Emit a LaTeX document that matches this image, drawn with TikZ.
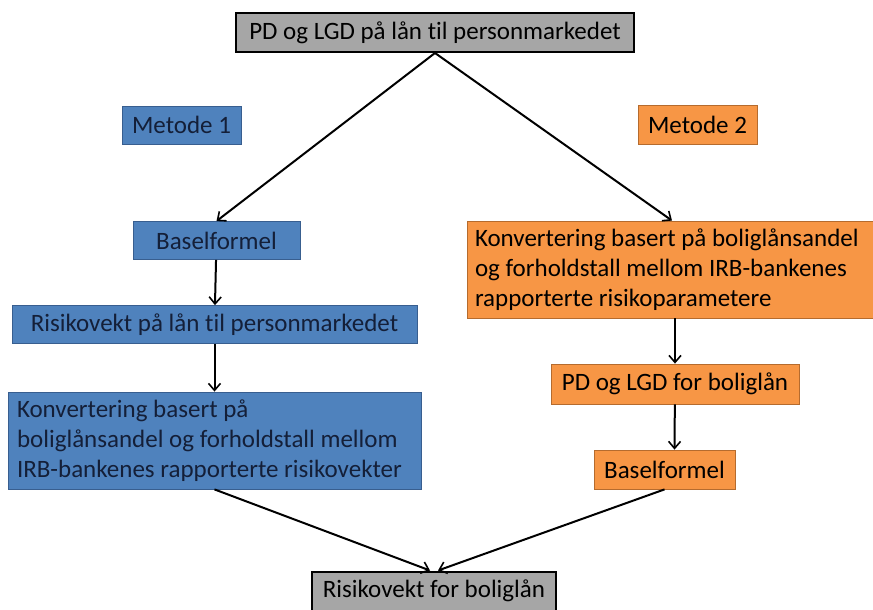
\documentclass[tikz,border=0pt]{standalone}
\usepackage{fontspec}
\setmainfont[RawFeature={-liga;-clig;-calt}]{Carlito}
\usetikzlibrary{arrows.meta}
\definecolor{boxgray}{rgb}{0.65, 0.65, 0.65}
\definecolor{metblue}{rgb}{0.31, 0.51, 0.74}
\definecolor{metblueline}{rgb}{0.22, 0.37, 0.56}
\definecolor{metorange}{rgb}{0.97, 0.59, 0.27}
\definecolor{metorangeline}{rgb}{0.71, 0.42, 0.18}
\definecolor{navytext}{rgb}{0.08, 0.12, 0.22}

\begin{document}
\begin{tikzpicture}[x=1pt, y=-1pt, font=\fontsize{25}{30}\selectfont,
		graybox/.style={draw=black, line width=2pt, fill=boxgray, inner sep=0pt, minimum height=39pt},
		bluebox/.style={draw=metblueline, line width=0.8pt, fill=metblue, text=navytext, inner sep=0pt, minimum height=38pt},
		orangebox/.style={draw=metorangeline, line width=0.8pt, fill=metorange, text=black, inner sep=0pt, minimum height=39pt},
		flow/.style={-{Straight Barb[length=7pt, width=12pt, line width=1.6pt]}, line width=2pt}]
		\useasboundingbox (0,0) rectangle (873,610);
		% top and bottom
		\node [graybox, minimum width=398pt] (pdlgd) at (435,32.5) {PD og LGD på lån til personmarkedet};
		\node [graybox, minimum width=244pt] (rvbolig) at (434,591) {Risikovekt for boliglån};
		% method 1
		\node [bluebox, minimum width=119pt] (met1) at (181.5,125) {Metode 1};
		\node [bluebox, minimum width=167pt] (basel1) at (216.5,240.5) {Baselformel};
		\node [bluebox, minimum width=405pt] (rvperson) at (214.5,324.5) {Risikovekt på lån til personmarkedet};
		\node [bluebox, text width=395pt, inner xsep=9pt, minimum height=97pt, align=flush left] (konv1) at (214.5,440.5)
			{Konvertering basert på\\boliglånsandel og forholdstall mellom\\IRB-bankenes rapporterte risikovekter};
		% method 2
		\node [orangebox, text width=390pt, inner xsep=8pt, minimum height=97pt, align=flush left] (konv2) at (670,269.5)
			{Konvertering basert på boliglånsandel\\og forholdstall mellom IRB-bankenes\\rapporterte risikoparametere};
		\node [orangebox, minimum width=119pt] (met2) at (697.5,125) {Metode 2};
		\node [orangebox, minimum width=248pt, minimum height=40pt] (pdbolig) at (675,384) {PD og LGD for boliglån};
		\node [orangebox, minimum width=141pt] (basel2) at (664.5,469.5) {Baselformel};
		% connectors
		\draw [flow] (pdlgd.south) -- (basel1.north);
		\draw [flow] (pdlgd.south) -- ([xshift=2pt]konv2.north);
		\draw [flow] (basel1) -- (rvperson);
		\draw [flow] (rvperson) -- (konv1);
		\draw [flow] ([xshift=5pt]konv2.south) -- (pdbolig);
		\draw [flow] (pdbolig) -- ([xshift=10pt]basel2.north);
		\draw [flow] (konv1.south) -- ([xshift=-4pt]rvbolig.north);
		\draw [flow] (basel2.south) -- ([xshift=4pt]rvbolig.north);
	\end{tikzpicture}
\end{document}
